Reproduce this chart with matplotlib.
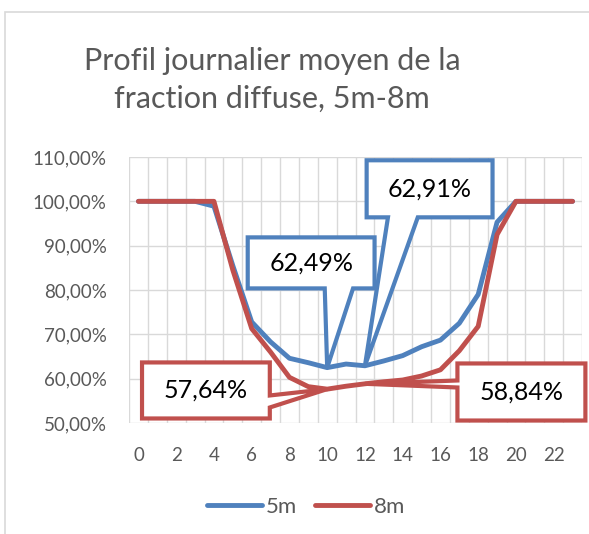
import numpy as np
import matplotlib.pyplot as plt
from matplotlib.patches import Polygon, Rectangle
from matplotlib.ticker import FuncFormatter, FixedLocator

# donnees (fraction diffuse en %)
hours = list(range(24))
frac_5m = [100, 100, 100, 100, 98.9, 85.5, 72.8, 68.3, 64.6, 63.6, 62.49, 63.3,
           62.91, 64.0, 65.2, 67.2, 68.7, 72.5, 79.0, 95.3, 100, 100, 100, 100]
frac_8m = [100, 100, 100, 100, 100, 84.5, 71.3, 66.0, 60.3, 58.2, 57.64, 58.3,
           58.84, 59.3, 59.7, 60.6, 62.0, 66.3, 71.8, 92.5, 100, 100, 100, 100]
series_names = ['5m', '8m']
label_hours_5m = [10, 12]
label_hours_8m = [10, 12]
xtick_labels = [str(h) for h in range(0, 24, 2)]
yticks = [50, 60, 70, 80, 90, 100, 110]

blue = '#4F81BD'
red = '#C0504D'
gray_txt = '#595959'
grid_col = '#D9D9D9'

plt.rcParams['font.family'] = ['Lato', 'DejaVu Sans']

W, H = 589, 534
fig = plt.figure(figsize=(W / 100, H / 100), dpi=100)
ax = fig.add_axes([129 / W, 1 - 423 / H, (582 - 129) / W, (423 - 157) / H])

# cadre du graphique
fig.patches.append(Rectangle((5 / W, -0.02), 1.1, 1 - 12 / H + 0.02,
                             transform=fig.transFigure, fill=False,
                             edgecolor=grid_col, lw=1.2))

ax.set_xlim(-0.5, 23.5)
ax.set_ylim(50, 110)
for x in np.arange(-0.5, 24, 1):
    ax.axvline(x, color=grid_col, lw=1, zorder=0)
for y in yticks:
    ax.axhline(y, color=grid_col, lw=1, zorder=0)
for s in ax.spines.values():
    s.set_visible(False)

ax.plot(hours, frac_5m, color=blue, lw=3.5, solid_capstyle='round',
        solid_joinstyle='round', label=series_names[0], zorder=3)
ax.plot(hours, frac_8m, color=red, lw=3.5, solid_capstyle='round',
        solid_joinstyle='round', label=series_names[1], zorder=3)

ax.xaxis.set_major_locator(FixedLocator(range(0, 24, 2)))
ax.set_xticklabels(xtick_labels)
ax.yaxis.set_major_locator(FixedLocator(yticks))
ax.yaxis.set_major_formatter(FuncFormatter(lambda v, p: ('%.2f%%' % v).replace('.', ',')))
ax.tick_params(axis='both', length=0, labelsize=13.5, labelcolor=gray_txt)
ax.tick_params(axis='y', pad=16)
ax.tick_params(axis='x', pad=17)


def callout(box, side, base, tip, txt, col):
    x0, x1, y0, y1 = box
    if side == 'bottom':
        pts = [(x0, y1), (x1, y1), (x1, y0), (base[1], y0), tip, (base[0], y0), (x0, y0)]
    elif side == 'right':
        pts = [(x0, y1), (x1, y1), (x1, base[0]), tip, (x1, base[1]), (x1, y0), (x0, y0)]
    else:
        pts = [(x0, y1), (x1, y1), (x1, y0), (x0, y0), (x0, base[1]), tip, (x0, base[0])]
    ax.add_patch(Polygon(pts, closed=True, facecolor='white', edgecolor=col,
                         lw=3, joinstyle='miter', zorder=5, clip_on=False))
    ax.text((x0 + x1) / 2, (y0 + y1) / 2, txt, ha='center', va='center',
            fontsize=18, color='black', zorder=6)


def fmt(v):
    return ('%.2f%%' % v).replace('.', ',')


h = label_hours_5m
callout((5.79, 12.51, 80.36, 91.87), 'bottom', (9.87, 11.37),
        (h[0], frac_5m[h[0]]), fmt(frac_5m[h[0]]), blue)
callout((12.09, 18.76, 96.39, 109.26), 'bottom', (13.22, 14.80),
        (h[1], frac_5m[h[1]]), fmt(frac_5m[h[1]]), blue)
h = label_hours_8m
callout((0.19, 6.96, 51.02, 63.66), 'right', (56.21, 53.50),
        (h[0], frac_8m[h[0]]), fmt(frac_8m[h[0]]), red)
callout((16.9, 23.68, 50.56, 63.43), 'left', (59.59, 58.01),
        (h[1], frac_8m[h[1]]), fmt(frac_8m[h[1]]), red)

fig.text(272 / W, 1 - 80 / H, 'Profil journalier moyen de la\nfraction diffuse, 5m-8m',
         ha='center', va='center', fontsize=22, color=gray_txt, linespacing=1.45)

leg = fig.legend(loc='center', bbox_to_anchor=(306 / W, 1 - 507 / H), ncol=2,
                 frameon=False, handlelength=2.5, handletextpad=0.15,
                 columnspacing=0.8, fontsize=16)
for t in leg.get_texts():
    t.set_color(gray_txt)

fig.savefig('out.png', dpi=100)
